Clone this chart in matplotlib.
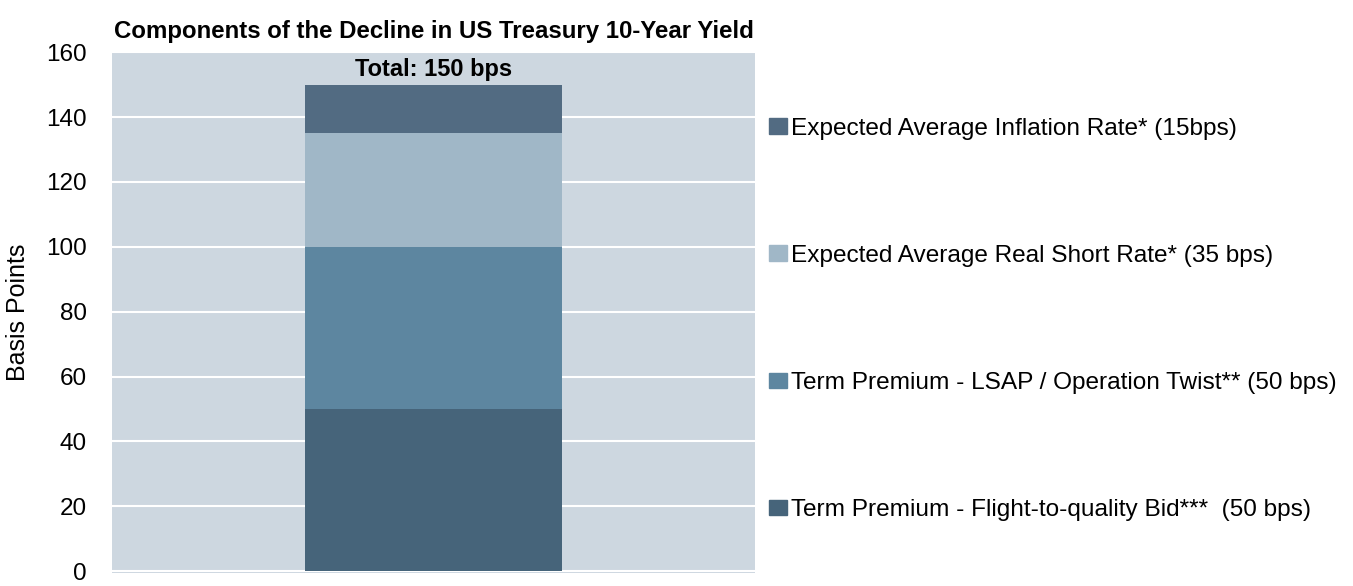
import matplotlib
matplotlib.use("Agg")
import matplotlib.pyplot as plt
from matplotlib.patches import Patch

plt.rcParams['font.family'] = ['Liberation Sans Narrow', 'Liberation Sans', 'DejaVu Sans']

# data (bottom -> top)
components = [
    "Term Premium - Flight-to-quality Bid***  (50 bps)",
    "Term Premium - LSAP / Operation Twist** (50 bps)",
    "Expected Average Real Short Rate* (35 bps)",
    "Expected Average Inflation Rate* (15bps)",
]
values = [50, 50, 35, 15]
colors = ["#46647A", "#5D86A0", "#A0B7C7", "#526B82"]
total_label = "Total: 150 bps"

fig = plt.figure(figsize=(13.53, 5.86), dpi=100)
ax = fig.add_axes([0.0828, 0.022, 0.4752, 0.889])
ax.set_facecolor("#CDD7E0")

bottom = 0
for v, c in zip(values, colors):
    ax.bar(0, v, width=1.0, bottom=bottom, color=c, zorder=3)
    bottom += v

ax.text(0, bottom + 1, total_label, ha="center", va="bottom",
        fontsize=17, fontweight="bold", zorder=4)

ax.set_xlim(-1.25, 1.25)
ax.set_ylim(-0.6, 160)
ax.set_yticks(range(0, 161, 20))
ax.set_xticks([])
ax.yaxis.grid(True, color="white", lw=1.5, zorder=1)
ax.set_axisbelow(True)
for s in ax.spines.values():
    s.set_visible(False)
ax.tick_params(axis="y", length=0, labelsize=17.5, pad=18)
ax.set_ylabel("Basis Points", fontsize=18, labelpad=12)

ax.set_title("Components of the Decline in US Treasury 10-Year Yield",
             fontsize=17.3, fontweight="bold", pad=10)

handles = [Patch(color=c) for c in colors][::-1]
fig.legend(handles, components[::-1], loc="center left",
           bbox_to_anchor=(0.568, 0.455), frameon=False, fontsize=17.6,
           labelspacing=4.3, handlelength=0.75, handleheight=0.6,
           handletextpad=0.15, borderpad=0, borderaxespad=0)

fig.savefig("out.png", dpi=100)
